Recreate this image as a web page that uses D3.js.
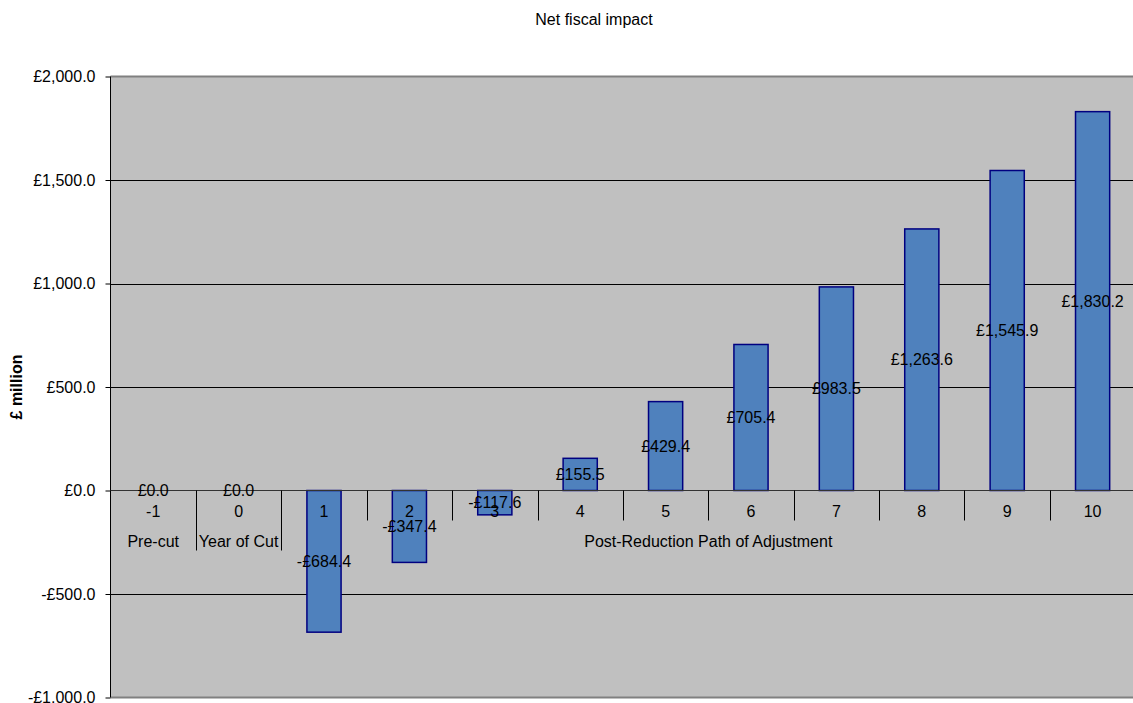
<!DOCTYPE html>
<html>
<head>
<meta charset="utf-8">
<script src="https://cdn.jsdelivr.net/npm/d3@7"></script>
<style>
  html, body { margin: 0; padding: 0; background: #fff; }
  svg { display: block; font-family: "Liberation Sans", Arial, sans-serif; }
</style>
</head>
<body>
<svg id="chart" width="1133" height="703"></svg>
<script>
// Year labels along the axis and the net fiscal impact for each year (£ million)
const years = ["-1", "0", "1", "2", "3", "4", "5", "6", "7", "8", "9", "10"];
const netImpact = [0.0, 0.0, -684.4, -347.4, -117.6, 155.5, 429.4, 705.4, 983.5, 1263.6, 1545.9, 1830.2];

// Second-level axis groups: name, first year index, last year index
const groupNames = ["Pre-cut", "Year of Cut", "Post-Reduction Path of Adjustment"];
const groupStart = [0, 1, 2];
const groupEnd = [0, 1, 11];

const yTicks = [-1000, -500, 0, 500, 1000, 1500, 2000];

const svg = d3.select("#chart");
const plot = { left: 110.5, top: 76.5, right: 1135.3, bottom: 697.5 };

const x = d3.scaleBand().domain(d3.range(years.length)).range([plot.left, plot.right]).padding(0);
const y = d3.scaleLinear().domain([-1000, 2000]).range([plot.bottom, plot.top]);

const money = v => (v < 0 ? "-£" : "£") + d3.format(",.1f")(Math.abs(v));

// Title
svg.append("text")
  .attr("x", 594).attr("y", 25)
  .attr("text-anchor", "middle")
  .attr("font-size", 16)
  .text("Net fiscal impact");

// Plot background
svg.append("rect")
  .attr("x", plot.left).attr("y", plot.top)
  .attr("width", plot.right - plot.left).attr("height", plot.bottom - plot.top)
  .attr("fill", "#C0C0C0");

// Horizontal gridlines
svg.append("g").selectAll("line")
  .data(yTicks.filter(t => t !== 0 && t !== 2000 && t !== -1000))
  .join("line")
  .attr("x1", plot.left).attr("x2", plot.right)
  .attr("y1", d => Math.round(y(d)) + 0.5).attr("y2", d => Math.round(y(d)) + 0.5)
  .attr("stroke", "#000").attr("stroke-width", 1);

// Top and bottom plot borders
[plot.top, plot.bottom].forEach(v => {
  svg.append("line")
    .attr("x1", plot.left).attr("x2", plot.right)
    .attr("y1", v).attr("y2", v)
    .attr("stroke", "#808080").attr("stroke-width", 2);
});

// Value axis
const yAxis = d3.axisLeft(y).tickValues(yTicks).tickSize(5).tickPadding(10).tickFormat(money);
const gy = svg.append("g").attr("transform", `translate(${plot.left},0)`).call(yAxis);
gy.select(".domain").remove();
gy.selectAll(".tick line").attr("stroke", "#000");
gy.selectAll(".tick text").attr("font-size", 16).attr("fill", "#000")
  .attr("font-family", "'Liberation Sans', Arial, sans-serif");
svg.append("line")
  .attr("x1", plot.left).attr("x2", plot.left)
  .attr("y1", plot.top).attr("y2", plot.bottom)
  .attr("stroke", "#000").attr("stroke-width", 1);

// Axis title
svg.append("text")
  .attr("transform", `translate(22,${(plot.top + plot.bottom) / 2}) rotate(-90)`)
  .attr("text-anchor", "middle")
  .attr("font-size", 16).attr("font-weight", "bold")
  .text("£ million");

const y0 = y(0);

// Bars
const barW = x.bandwidth() / 2.5;
svg.append("g").selectAll("rect")
  .data(netImpact)
  .join("rect")
  .attr("x", (d, i) => x(i) + (x.bandwidth() - barW) / 2)
  .attr("y", d => y(Math.max(0, d)))
  .attr("width", barW)
  .attr("height", d => Math.abs(y(d) - y0))
  .attr("fill", "#4F81BD")
  .attr("stroke", "#000080").attr("stroke-width", 1.5)
  .attr("display", d => d === 0 ? "none" : null);

// Category axis: zero line, tick marks and two rows of labels
svg.append("line")
  .attr("x1", plot.left).attr("x2", plot.right)
  .attr("y1", y0).attr("y2", y0)
  .attr("stroke", "#333").attr("stroke-width", 1.2);

const gx = svg.append("g");
const boundaries = d3.range(1, years.length);
const groupBoundaries = groupStart.slice(1);
gx.selectAll("line.tick")
  .data(boundaries)
  .join("line")
  .attr("class", "tick")
  .attr("x1", d => Math.round(x(d)) + 0.5).attr("x2", d => Math.round(x(d)) + 0.5)
  .attr("y1", y0)
  .attr("y2", d => groupBoundaries.includes(d) ? y0 + 60 : y0 + 30)
  .attr("stroke", "#000").attr("stroke-width", 1);

gx.selectAll("text.year")
  .data(years)
  .join("text")
  .attr("class", "year")
  .attr("x", (d, i) => x(i) + x.bandwidth() / 2)
  .attr("y", y0 + 26)
  .attr("text-anchor", "middle")
  .attr("font-size", 16)
  .text(d => d);

gx.selectAll("text.group")
  .data(groupNames)
  .join("text")
  .attr("class", "group")
  .attr("x", (d, i) => (x(groupStart[i]) + x(groupEnd[i]) + x.bandwidth()) / 2)
  .attr("y", y0 + 56)
  .attr("text-anchor", "middle")
  .attr("font-size", 16)
  .text(d => d);

// Value labels centred on each bar
svg.append("g").selectAll("text")
  .data(netImpact)
  .join("text")
  .attr("x", (d, i) => x(i) + x.bandwidth() / 2)
  .attr("y", d => (y(d) + y0) / 2)
  .attr("dy", "0.36em")
  .attr("text-anchor", "middle")
  .attr("font-size", 16)
  .text(d => money(d));
</script>
</body>
</html>
